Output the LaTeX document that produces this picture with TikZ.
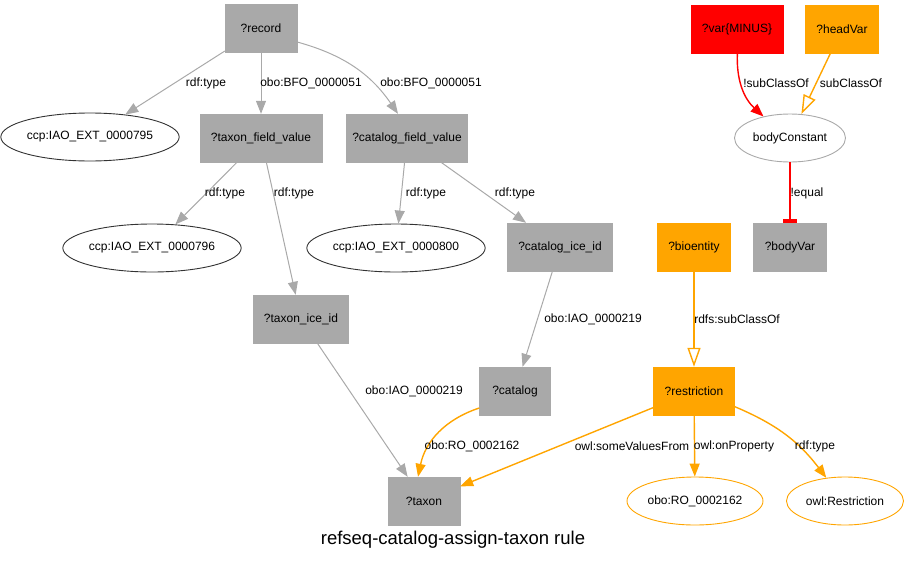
\documentclass[tikz,border=0pt]{standalone}
\usepackage{fontspec}
\setmainfont{Liberation Sans}
\usetikzlibrary{arrows.meta,shapes.geometric,calc}
\definecolor{gvgray}{HTML}{A9A9A9}
\definecolor{gvorange}{HTML}{FFA500}
\definecolor{gvred}{HTML}{FF0000}
\definecolor{gvline}{HTML}{333333}

\begin{document}
\begin{tikzpicture}[x=1pt,y=-1pt,
  >={Triangle[length=13pt,width=10pt]},
  lbl/.style={font=\fontsize{12}{14}\selectfont, inner sep=0pt},
  ttl/.style={font=\fontsize{18.5}{22}\selectfont, inner sep=0pt},
  gbox/.style={rectangle, draw=gvgray, fill=gvgray, font=\fontsize{12}{14}\selectfont, inner sep=0pt, minimum height=48pt},
  obox/.style={gbox, draw=gvorange, fill=gvorange},
  rbox/.style={gbox, draw=gvred, fill=gvred},
  eblk/.style={ellipse, draw=gvline, line width=0.9pt, font=\fontsize{12}{14}\selectfont, inner sep=0pt, minimum height=48pt},
  egry/.style={eblk, draw=gvgray},
  eorg/.style={eblk, draw=gvorange},
  grel/.style={->, line width=1pt, color=gvgray},
  orel/.style={->, line width=1.4pt, color=gvorange},
  rrel/.style={->, line width=1.4pt, color=gvred},
  subrel/.style={-{Triangle[open,length=19pt,width=13pt]}, line width=1.4pt, color=gvorange},
  neqrel/.style={-{Rectangle[length=4pt,width=14pt]}, line width=1.4pt, color=gvred},
]
\useasboundingbox (0,0) rectangle (908,563);

% left part: record and its fields
\node[gbox, minimum width=72pt] (rec) at (261,28) {?record};
\node[eblk, minimum width=171pt] (c795) at (90,137) {ccp:IAO\_EXT\_0000795};
\node[gbox, minimum width=122pt] (tfv) at (261,138) {?taxon\_field\_value};
\node[gbox, minimum width=121pt] (cfv) at (407,138) {?catalog\_field\_value};
\node[eblk, minimum width=171pt] (c796) at (152,248) {ccp:IAO\_EXT\_0000796};
\node[eblk, minimum width=171pt] (c800) at (396,248) {ccp:IAO\_EXT\_0000800};
\node[gbox, minimum width=105pt] (cid) at (560,247) {?catalog\_ice\_id};
\node[gbox, minimum width=95pt] (tid) at (301,319) {?taxon\_ice\_id};
\node[gbox, minimum width=71pt] (cat) at (515,391) {?catalog};
\node[gbox, minimum width=72pt] (tax) at (424,501) {?taxon};
% right part: head, body and restriction
\node[rbox, minimum width=92pt] (minus) at (737,29) {?var\{MINUS\}};
\node[obox, minimum width=73pt] (head) at (842,29) {?headVar};
\node[egry, minimum width=111pt] (bconst) at (790,138) {bodyConstant};
\node[gbox, minimum width=73pt] (bvar) at (790,247) {?bodyVar};
\node[obox, minimum width=73pt] (bio) at (694,247) {?bioentity};
\node[obox, minimum width=81pt] (restr) at (694,391) {?restriction};
\node[eorg, minimum width=136pt] (ro) at (695,501) {obo:RO\_0002162};
\node[eorg, minimum width=117pt] (owlr) at (845,501) {owl:Restriction};

% gray relations
\draw[grel] (rec) -- (c795);
\draw[grel] (rec) -- (tfv);
\draw[grel] ($(rec.east)+(0,14)$) to[bend left=20] ($(cfv.north)+(-9,0)$);
\draw[grel] (tfv) -- (c796);
\draw[grel] (tfv) -- (tid);
\draw[grel] (cfv) -- (c800);
\draw[grel] (cfv) -- (cid);
\draw[grel] (cid) -- (cat);
\draw[grel] (tid) -- (tax);
\node[lbl] (l1) at (206,83) {rdf:type};
\node[lbl] (l2) at (311,83) {obo:BFO\_0000051};
\node[lbl] (l3) at (431,83) {obo:BFO\_0000051};
\node[lbl] (l4) at (225,193) {rdf:type};
\node[lbl] (l5) at (294,193) {rdf:type};
\node[lbl] (l6) at (426,193) {rdf:type};
\node[lbl] (l7) at (515,193) {rdf:type};
\node[lbl] (l8) at (593,319) {obo:IAO\_0000219};
\node[lbl] (l9) at (414,391) {obo:IAO\_0000219};

% orange relations
\draw[orel] ($(cat.west)+(0,17)$) to[bend right=30] ($(tax.north)+(-6,0)$);
\draw[orel] (restr) -- (tax);
\draw[orel] (restr) -- (ro);
\draw[orel] (restr) to[bend left=15] (owlr);
\draw[subrel] (bio) -- (restr);
\draw[subrel] (head) -- (bconst);
\node[lbl] (l10) at (472,446) {obo:RO\_0002162};
\node[lbl] (l11) at (632,446) {owl:someValuesFrom};
\node[lbl] (l12) at (734,446) {owl:onProperty};
\node[lbl] (l13) at (815,446) {rdf:type};
\node[lbl] (l14) at (737,319) {rdfs:subClassOf};
\node[lbl] (l15) at (851,83) {subClassOf};

% red relations
\draw[rrel] (minus) to[bend right=25] (bconst);
\draw[neqrel] (bconst) -- (bvar);
\node[lbl] (l16) at (776,83) {!subClassOf};
\node[lbl] (l17) at (807,193) {!equal};

\node[ttl] (title) at (453,540) {refseq-catalog-assign-taxon rule};
\end{tikzpicture}
\end{document}
